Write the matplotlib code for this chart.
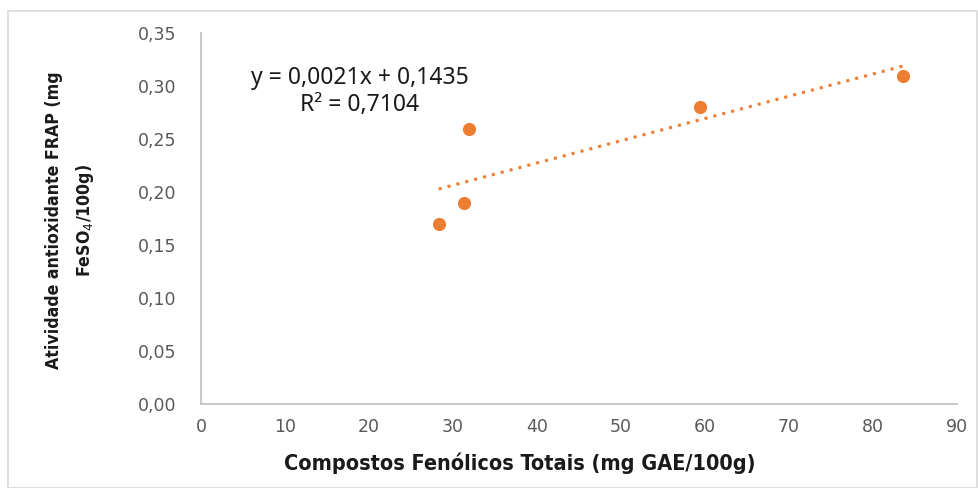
import numpy as np
import matplotlib.pyplot as plt
from matplotlib.patches import Rectangle

# data
fenolicos = [28.3, 31.3, 31.9, 59.4, 83.6]
frap = [0.17, 0.19, 0.26, 0.28, 0.31]
slope = 0.0021
intercept = 0.1435
r2 = 0.7104

x_ticks = [0, 10, 20, 30, 40, 50, 60, 70, 80, 90]
y_ticks = [0.00, 0.05, 0.10, 0.15, 0.20, 0.25, 0.30, 0.35]

orange = '#ED7D31'

fig = plt.figure(figsize=(9.79, 4.88), dpi=100)
ax = fig.add_axes([0.2053, 0.172, 0.7722, 0.760])

ax.scatter(fenolicos, frap, s=90, color=orange, zorder=3, linewidths=0)

# linear trendline over the data range
xt = np.array([min(fenolicos), max(fenolicos)])
ax.plot(xt, slope * xt + intercept, linestyle=(0, (1, 2)), color=orange, lw=2.2)

eq = 'y = {}x + {}\nR² = {}'.format(str(slope).replace('.', ','),
                                    str(intercept).replace('.', ','),
                                    str(r2).replace('.', ','))
ax.text(18.9, 0.295, eq, ha='center', va='center', fontsize=16.5,
        family=['Noto Sans', 'DejaVu Sans'], color='#1a1a1a', linespacing=1.15)

ax.set_xlim(0, 90)
ax.set_ylim(0, 0.35)
ax.set_xticks(x_ticks)
ax.set_yticks(y_ticks)
ax.set_xticklabels([str(v) for v in x_ticks])
ax.set_yticklabels(['{:.2f}'.format(v).replace('.', ',') for v in y_ticks])
ax.tick_params(length=0, labelsize=12.5, colors='#595959', pad=10)
ax.tick_params(axis='y', pad=18)

for s in ['top', 'right']:
    ax.spines[s].set_visible(False)
for s in ['left', 'bottom']:
    ax.spines[s].set_color('#bfbfbf')
    ax.spines[s].set_linewidth(1.2)

fig.text(0.531, 0.051, 'Compostos Fenólicos Totais (mg GAE/100g)', ha='center', va='center',
         fontsize=15.5, fontweight='bold', fontstretch='condensed', color='#1a1a1a')
fig.text(0.072, 0.548, 'Atividade antioxidante FRAP (mg\nFeSO$_4$/100g)', ha='center', va='center',
         rotation=90, fontsize=12.7, fontweight='bold', fontstretch='condensed',
         color='#1a1a1a', linespacing=1.7)

# outer chart frame
fig.patches.append(Rectangle((0.008, 0.0), 0.99, 0.978, transform=fig.transFigure,
                             fill=False, edgecolor='#d9d9d9', lw=1.2))

fig.savefig('out.png', dpi=100)
